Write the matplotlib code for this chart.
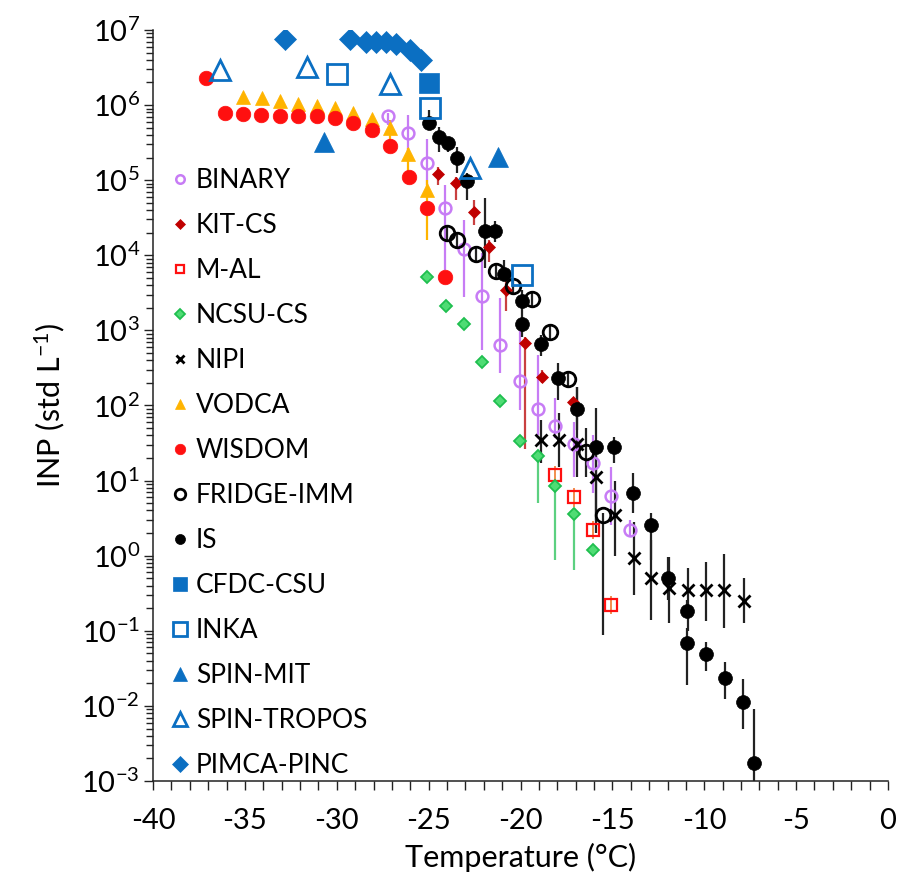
import numpy as np
import matplotlib
matplotlib.use("Agg")
import matplotlib.pyplot as plt
from matplotlib.ticker import FixedLocator, MultipleLocator, LogLocator, NullFormatter

plt.rcParams['font.family'] = ['Lato', 'DejaVu Sans']
plt.rcParams['mathtext.fontset'] = 'custom'
plt.rcParams['mathtext.rm'] = 'Lato'
plt.rcParams['mathtext.it'] = 'Lato:italic'
plt.rcParams['mathtext.bf'] = 'Lato:bold'

# ---------------- data: temperature (deg C), INP (std L-1), error bounds ----------------
binary_t = [-27.2, -26.1, -25.1, -24.1, -23.1, -22.1, -21.1, -20.05, -19.05, -18.1, -17.1, -16.05, -15.1, -14.05]
binary_v = [7.1e5, 4.2e5, 1.7e5, 4.3e4, 1.2e4, 2.9e3, 630, 210, 89, 54, 31, 17, 6.2, 2.2]
binary_hi = [7.8e5, 7.4e5, 3.5e5, 8.7e4, 2.95e4, 1.07e4, 2.7e3, 1.4e3, 470, 126, 60, 41, 15, 3.0]
binary_lo = [5.4e5, 2.4e5, 8.7e4, 6.3e3, 2.8e3, 550, 270, 87, 41, 37, 11.2, 6.8, 2.6, 1.8]

kit_t = [-24.5, -23.5, -22.55, -21.7, -20.8, -19.75, -18.85, -17.15]
kit_v = [1.2e5, 9.1e4, 3.8e4, 1.3e4, 3.5e3, 690, 240, 110]
kit_hi = [1.5e5, 1.1e5, 5.5e4, 1.6e4, 4.7e3, 810, 295, 125]
kit_lo = [8.7e4, 5.5e4, 2.5e4, 8.1e3, 1.8e3, 26, 200, 95]

mal_t = [-18.1, -17.1, -16.05, -15.1]
mal_v = [11.7, 6.0, 2.2, 0.22]
mal_hi = [15.5, 8.0, 2.9, 0.29]
mal_lo = [8.8, 4.5, 1.65, 0.165]

ncsu_t = [-25.1, -24.05, -23.05, -22.1, -21.1, -20.05, -19.05, -18.1, -17.1, -16.05]
ncsu_v = [5.2e3, 2.1e3, 1.2e3, 380, 115, 34, 21, 8.5, 3.6, 1.2]
ncsu_hi = [5.2e3, 2.1e3, 1.2e3, 380, 115, 40, 21, 8.5, 3.6, 1.2]
ncsu_lo = [5.2e3, 2.1e3, 1.2e3, 380, 115, 28, 5.0, 0.87, 0.65, 1.2]

nipi_t = [-18.9, -17.9, -16.95, -15.9, -14.85, -13.85, -12.9, -11.9, -10.9, -9.9, -8.9, -7.85]
nipi_v = [35, 35, 31, 11, 3.5, 0.92, 0.51, 0.37, 0.35, 0.35, 0.35, 0.25]
nipi_hi = [65, 79, 178, 32, 10, 2.8, 1.6, 0.95, 0.69, 0.83, 1.05, 0.50]
nipi_lo = [17, 15, 11, 2.0, 1.0, 0.30, 0.14, 0.126, 0.10, 0.135, 0.11, 0.126]

vodca_t = [-35.1, -34.05, -33.1, -32.1, -31.1, -30.1, -29.1, -28.1, -27.1, -26.1, -25.1]
vodca_v = [1.3e6, 1.23e6, 1.15e6, 1.05e6, 9.8e5, 9.1e5, 7.8e5, 6.6e5, 5.0e5, 2.2e5, 7.4e4]
vodca_hi = [1.3e6, 1.23e6, 1.15e6, 1.05e6, 9.8e5, 9.1e5, 7.8e5, 6.6e5, 6.3e5, 2.7e5, 1.0e5]
vodca_lo = [1.3e6, 1.23e6, 1.15e6, 1.05e6, 9.8e5, 9.1e5, 7.8e5, 6.6e5, 2.9e5, 1.1e5, 1.6e4]

wisdom_t = [-37.1, -36.1, -35.1, -34.1, -33.1, -32.1, -31.1, -30.1, -29.1, -28.1, -27.1, -26.05, -25.1, -24.1]
wisdom_v = [2.3e6, 7.9e5, 7.6e5, 7.45e5, 7.2e5, 7.2e5, 7.1e5, 6.7e5, 5.7e5, 4.7e5, 2.85e5, 1.1e5, 4.3e4, 5.2e3]

fridge_t = [-24.0, -23.45, -22.4, -21.35, -20.4, -19.4, -18.4, -17.4, -16.45, -15.5]
fridge_v = [2.0e4, 1.6e4, 1.05e4, 6.2e3, 3.9e3, 2.6e3, 960, 225, 24, 3.5]
fridge_hi = [2.5e4, 2.0e4, 1.3e4, 7.7e3, 4.8e3, 3.2e3, 1.2e3, 280, 50, 3.7]
fridge_lo = [1.6e4, 1.3e4, 8.5e3, 5.0e3, 3.1e3, 2.1e3, 780, 180, 11, 0.087]

is_t = [-24.96, -24.42, -23.93, -23.44, -22.89, -21.93, -21.39, -20.9, -19.93, -19.9, -18.88, -17.94,
        -16.91, -15.89, -14.91, -13.9, -12.9, -11.96, -10.92, -10.92, -9.89, -8.86, -7.91, -7.3]
is_v = [5.8e5, 3.8e5, 3.1e5, 2.0e5, 9.7e4, 2.1e4, 2.1e4, 5.6e3, 2.5e3, 1.2e3, 660, 230,
        89, 27.7, 27.7, 6.9, 2.6, 0.51, 0.185, 0.069, 0.049, 0.0236, 0.0112, 0.00172]
is_hi = [8.6e5, 5.1e5, 3.8e5, 2.8e5, 1.26e5, 5.8e4, 2.9e4, 8.7e3, 3.5e3, 2.5e3, 870, 370,
         178, 93, 38, 12.6, 3.7, 0.95, 0.26, 0.11, 0.071, 0.038, 0.023, 0.0091]
is_lo = [4.7e5, 2.4e5, 2.4e5, 1.26e5, 5.5e4, 6.8e3, 1.5e4, 4.7e3, 2.5e3, 820, 450, 118,
         47, 3.0, 17, 3.7, 0.87, 0.26, 0.185, 0.019, 0.029, 0.0123, 0.0049, 0.001]

cfdc_t = [-24.96]
cfdc_v = [1.95e6]

inka_t = [-30.0, -24.95, -19.9]
inka_v = [2.6e6, 9.1e5, 5.5e3]

mit_t = [-30.7, -21.2]
mit_v = [3.2e5, 2.05e5]

tropos_t = [-36.35, -31.6, -27.1, -22.75]
tropos_v = [2.9e6, 3.2e6, 1.9e6, 1.45e5]

pimca_t = [-32.8, -29.3, -28.4, -27.85, -27.3, -26.8, -26.0, -25.4]
pimca_v = [7.5e6, 7.5e6, 7.0e6, 7.0e6, 7.0e6, 6.5e6, 5.4e6, 4.0e6]

x_ticks = [-40, -35, -30, -25, -20, -15, -10, -5, 0]
y_ticks = [1e-3, 1e-2, 1e-1, 1e0, 1e1, 1e2, 1e3, 1e4, 1e5, 1e6, 1e7]

# ---------------- colours ----------------
BLUE = '#0b6fc2'
PURPLE = '#c77cf5'
DARKRED = '#c00000'
RED = '#ff1010'
GREEN_F = '#4fdc74'
GREEN_E = '#1fbf4f'
ORANGE = '#ffb400'
BLACK = '#000000'

fig = plt.figure(figsize=(9.03, 8.90), dpi=100)
ax = fig.add_axes([153 / 903, 1 - 781 / 890, 735 / 903, 751 / 890])
ax.set_yscale('log')
ax.set_xlim(-40, 0)
ax.set_ylim(1e-3, 1e7)


def errbars(t, v, lo, hi, color, lw=1.6, z=1):
    v = np.asarray(v)
    yerr = np.vstack([v - np.asarray(lo), np.asarray(hi) - v])
    ax.errorbar(t, v, yerr=yerr, fmt='none', ecolor=color, elinewidth=lw, capsize=0, zorder=z)


errbars(binary_t, binary_v, binary_lo, binary_hi, PURPLE)
errbars(kit_t, kit_v, kit_lo, kit_hi, '#c94040')
errbars(mal_t, mal_v, mal_lo, mal_hi, '#f07a30', lw=1.2)
errbars(ncsu_t, ncsu_v, ncsu_lo, ncsu_hi, '#5cd080')
errbars(nipi_t, nipi_v, nipi_lo, nipi_hi, '#222222')
errbars(vodca_t, vodca_v, vodca_lo, vodca_hi, ORANGE)
errbars(fridge_t, fridge_v, fridge_lo, fridge_hi, '#222222')
errbars(is_t, is_v, is_lo, is_hi, '#222222')

h = {}
h['BINARY'], = ax.plot(binary_t, binary_v, 'o', ms=8.5, mfc='none', mec=PURPLE, mew=1.8, zorder=3)
h['KIT-CS'], = ax.plot(kit_t, kit_v, 'D', ms=6.5, mfc=DARKRED, mec=DARKRED, mew=0.5, zorder=3)
h['M-AL'], = ax.plot(mal_t, mal_v, 's', ms=8.5, mfc='none', mec=RED, mew=1.6, zorder=3)
h['NCSU-CS'], = ax.plot(ncsu_t, ncsu_v, 'D', ms=6.5, mfc=GREEN_F, mec=GREEN_E, mew=1.3, zorder=3)
h['NIPI'], = ax.plot(nipi_t, nipi_v, 'x', ms=8.5, mec=BLACK, mew=2.0, zorder=3)
h['VODCA'], = ax.plot(vodca_t, vodca_v, '^', ms=9.5, mfc=ORANGE, mec=ORANGE, mew=0.5, zorder=3)
h['WISDOM'], = ax.plot(wisdom_t, wisdom_v, 'o', ms=10.5, mfc=RED, mec=RED, mew=0.5, zorder=3)
h['FRIDGE-IMM'], = ax.plot(fridge_t, fridge_v, 'o', ms=10.5, mfc='none', mec=BLACK, mew=2.0, zorder=3)
h['IS'], = ax.plot(is_t, is_v, 'o', ms=10, mfc=BLACK, mec=BLACK, mew=0.5, zorder=3)
h['CFDC-CSU'], = ax.plot(cfdc_t, cfdc_v, 's', ms=14.5, mfc=BLUE, mec=BLUE, mew=0.5, zorder=3)
h['INKA'], = ax.plot(inka_t, inka_v, 's', ms=14, mfc='none', mec=BLUE, mew=2.0, zorder=3)
h['SPIN-MIT'], = ax.plot(mit_t, mit_v, '^', ms=14.5, mfc=BLUE, mec=BLUE, mew=0.5, zorder=3)
h['SPIN-TROPOS'], = ax.plot(tropos_t, tropos_v, '^', ms=14, mfc='none', mec=BLUE, mew=2.0, zorder=3)
h['PIMCA-PINC'], = ax.plot(pimca_t, pimca_v, 'D', ms=11.5, mfc=BLUE, mec=BLUE, mew=0.5, zorder=3)

labels = list(h.keys())
leg = ax.legend([h[k] for k in labels], labels, loc='upper left',
                bbox_to_anchor=(0.0245, 0.816), frameon=False, fontsize=19,
                markerscale=0.72, numpoints=1, handlelength=0.7, handletextpad=0.25,
                labelspacing=0.757, borderpad=0, borderaxespad=0)

# ---------------- axes styling ----------------
for s in ('top', 'right'):
    ax.spines[s].set_visible(False)
for s in ('left', 'bottom'):
    ax.spines[s].set_linewidth(1.1)
    ax.spines[s].set_color('#222222')

ax.xaxis.set_major_locator(FixedLocator(x_ticks))
ax.xaxis.set_minor_locator(MultipleLocator(1))
ax.set_xticklabels([f'{v:d}' for v in x_ticks])
ax.yaxis.set_major_locator(FixedLocator(y_ticks))
ax.yaxis.set_minor_locator(LogLocator(base=10, subs=np.arange(2, 10), numticks=20))
ax.yaxis.set_minor_formatter(NullFormatter())
ax.set_yticklabels([r'$\mathregular{10^{%d}}$' % int(round(np.log10(v))) for v in y_ticks])

ax.tick_params(axis='both', which='both', direction='out', color='#222222', width=1.0)
ax.tick_params(axis='x', which='both', length=6.5, labelsize=21, pad=13)
ax.tick_params(axis='y', which='major', length=6.5, labelsize=21, pad=3)
ax.tick_params(axis='y', which='minor', length=5)

ax.set_xlabel('Temperature (°C)', fontsize=22, labelpad=6)
ax.set_ylabel(r'INP (std L$\mathregular{^{-1}}$)', fontsize=22, labelpad=10)

fig.savefig('out.png', dpi=100)
